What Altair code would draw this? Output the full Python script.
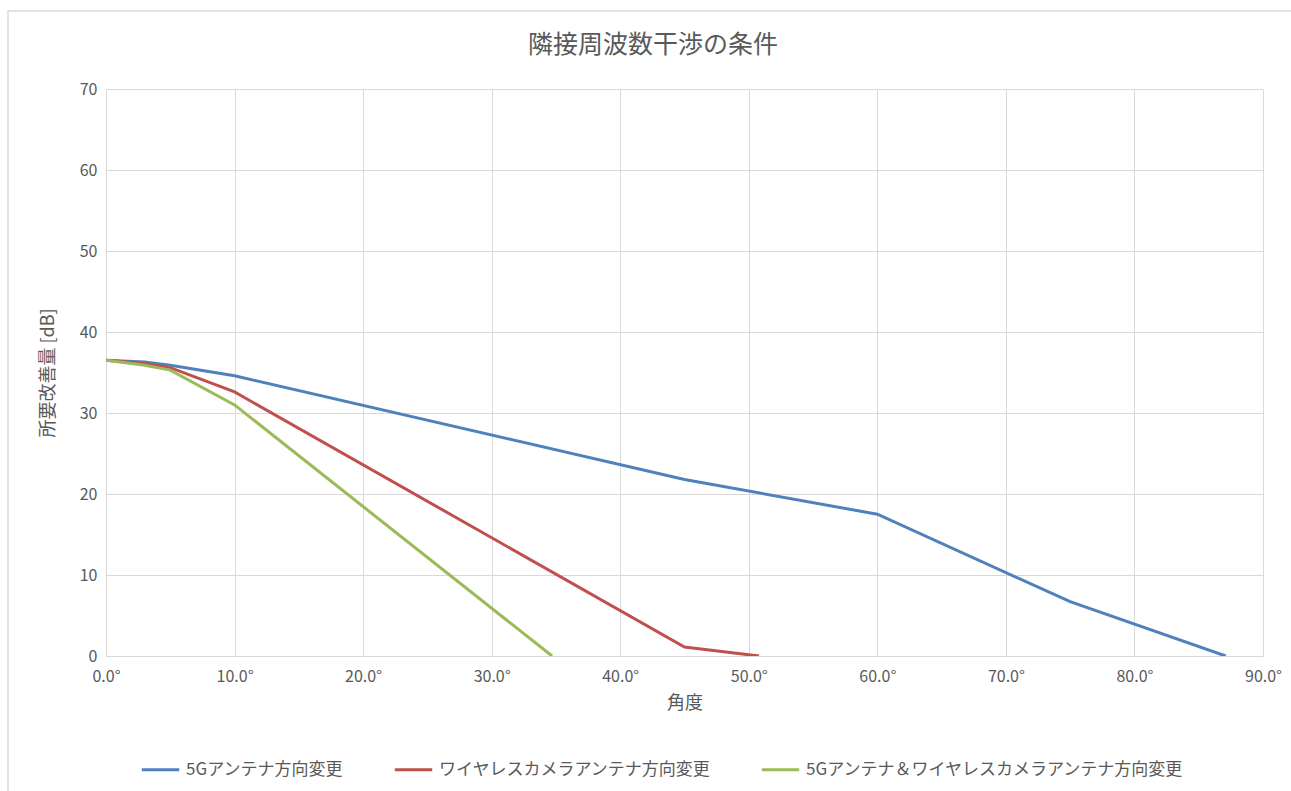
import altair as alt
import pandas as pd

# Angle (deg) vs. required improvement (dB) for each countermeasure
chart_title = "隣接周波数干渉の条件"
series_names = [
    "5Gアンテナ方向変更",
    "ワイヤレスカメラアンテナ方向変更",
    "5Gアンテナ＆ワイヤレスカメラアンテナ方向変更",
]
colors = ["#4F81BD", "#C0504D", "#9BBB59"]

angle_5g = [0, 3, 5, 10, 45, 60, 75, 87.1]
value_5g = [36.5, 36.3, 35.9, 34.6, 21.8, 17.5, 6.7, 0.0]

angle_cam = [0, 3, 5, 10, 45, 50.8]
value_cam = [36.5, 36.1, 35.6, 32.6, 1.1, 0.0]

angle_both = [0, 3, 5, 10, 34.7]
value_both = [36.5, 35.9, 35.3, 31.0, 0.0]

x_ticks = [0, 10, 20, 30, 40, 50, 60, 70, 80, 90]
y_ticks = [0, 10, 20, 30, 40, 50, 60, 70]

rows = []
for name, xs, ys in zip(series_names,
                        [angle_5g, angle_cam, angle_both],
                        [value_5g, value_cam, value_both]):
    for i, (a, v) in enumerate(zip(xs, ys)):
        rows.append({"series": name, "angle": a, "value": v, "order": i})
df = pd.DataFrame(rows)

FONT = "Noto Sans CJK JP"
TEXT = "#595959"
GRID = "#D9D9D9"

one = pd.DataFrame({"t": [chart_title]})

# light outer frame of the chart area
frame = alt.Chart(one).mark_rect(
    fill=None, stroke=GRID, strokeWidth=1.5, clip=False
).encode(
    x=alt.value(-98), x2=alt.value(1200),
    y=alt.value(-78), y2=alt.value(720),
)

# chart heading, centred over the whole chart area
heading = alt.Chart(one).mark_text(
    font=FONT, fontSize=25, color=TEXT, align="center", baseline="middle"
).encode(
    text="t:N", x=alt.value(547), y=alt.value(-44),
)

lines = alt.Chart(df).mark_line(strokeWidth=3, clip=True).encode(
    x=alt.X(
        "angle:Q",
        scale=alt.Scale(domain=[0, 90], nice=False),
        axis=alt.Axis(
            values=x_ticks,
            labelExpr="format(datum.value, '.1f') + '°'",
            title="角度",
            grid=True,
            ticks=False,
            labelFlush=False,
            labelPadding=12,
            titlePadding=10,
        ),
    ),
    y=alt.Y(
        "value:Q",
        scale=alt.Scale(domain=[0, 70], nice=False),
        axis=alt.Axis(
            values=y_ticks,
            title="所要改善量 [dB]",
            grid=True,
            ticks=False,
            labelFlush=False,
            labelPadding=9,
            titlePadding=22,
        ),
    ),
    color=alt.Color(
        "series:N",
        scale=alt.Scale(domain=series_names, range=colors),
        sort=series_names,
        legend=alt.Legend(
            title=None,
            orient="none",
            direction="horizontal",
            legendX=34,
            legendY=660,
            columns=3,
            columnPadding=44,
            symbolType="stroke",
            symbolSize=1400,
            symbolStrokeWidth=3,
            labelOffset=5,
            labelFontSize=17,
            labelFont=FONT,
            labelColor=TEXT,
            labelLimit=600,
        ),
    ),
    order="order:Q",
)

chart = alt.layer(frame, heading, lines).properties(
    width=1157,
    height=567,
    autosize=alt.AutoSizeParams(type="none"),
    padding={"left": 106, "top": 89, "right": 28, "bottom": 135},
).configure(
    background="white",
).configure_view(
    stroke=None,
).configure_axis(
    gridColor=GRID,
    gridWidth=1,
    domainColor=GRID,
    domainWidth=1,
    labelFont=FONT,
    labelFontSize=16,
    labelColor=TEXT,
    titleFont=FONT,
    titleFontSize=18,
    titleFontWeight="normal",
    titleColor=TEXT,
)

chart.save("out.html", embed_options={"renderer": "svg", "actions": False})
